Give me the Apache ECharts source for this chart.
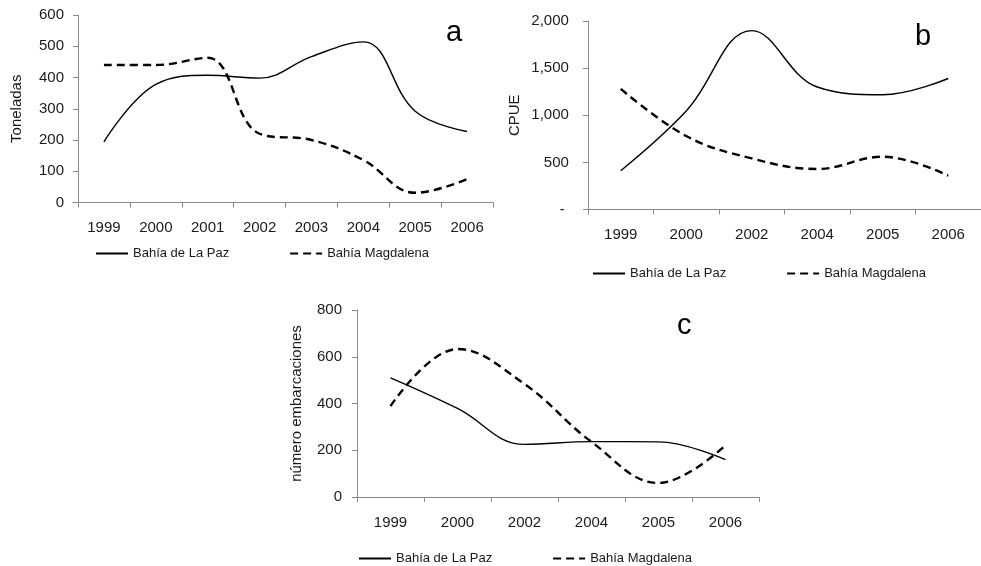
<!DOCTYPE html>
<html>
<head>
<meta charset="utf-8">
<script src="https://cdn.jsdelivr.net/npm/echarts@6/dist/echarts.min.js"></script>
<style>
  html, body { margin: 0; padding: 0; background: #fff; }
  #chart { width: 981px; height: 566px; }
</style>
</head>
<body>
<div id="chart"></div>
<script>
// Panel a: landings (toneladas) per year
const yearsA = ['1999', '2000', '2001', '2002', '2003', '2004', '2005', '2006'];
const toneladasPaz = [194, 378, 407, 398, 467, 514, 292, 227];
const toneladasMag = [440, 440, 463, 220, 200, 136, 31, 75];

// Panels b and c share the same years
const yearsBC = ['1999', '2000', '2002', '2004', '2005', '2006'];
const cpuePaz = [412, 1045, 1898, 1300, 1218, 1390];
const cpueMag = [1280, 780, 542, 430, 560, 359];
const embarcPaz = [510, 379, 225, 237, 236, 160];
const embarcMag = [389, 633, 483, 236, 60, 221];

const nameA = 'Bahía de La Paz';
const nameB = 'Bahía Magdalena';

const FONT = 'Liberation Sans, Arial, sans-serif';
const AXIS_GRAY = '#8a8a8a';
const TEXT = '#1a1a1a';

const solidStyle = { color: '#000', width: 1.4, type: 'solid' };
const dashStyle = { color: '#000', width: 2.4, type: [8, 5] };

function xAxisFor(gridIndex, cats) {
  return {
    type: 'category', gridIndex: gridIndex, data: cats, boundaryGap: true,
    axisLine: { lineStyle: { color: AXIS_GRAY, width: 1 } },
    axisTick: { show: true, inside: false, length: 5, alignWithLabel: false, lineStyle: { color: AXIS_GRAY } },
    axisLabel: { color: TEXT, fontFamily: FONT, fontSize: 15, margin: 18, interval: 0 },
    splitLine: { show: false }
  };
}

function yAxisFor(gridIndex, max, interval, title, gap, margin, fmt) {
  return {
    type: 'value', gridIndex: gridIndex, min: 0, max: max, interval: interval,
    name: title, nameLocation: 'middle', nameGap: gap, nameRotate: 90,
    nameTextStyle: { color: TEXT, fontFamily: FONT, fontSize: 15 },
    axisLine: { show: true, lineStyle: { color: AXIS_GRAY, width: 1 } },
    axisTick: { show: true, inside: false, length: 5, lineStyle: { color: AXIS_GRAY } },
    axisLabel: { color: TEXT, fontFamily: FONT, fontSize: 15, margin: margin, formatter: fmt },
    splitLine: { show: false }
  };
}

function lineSeries(name, data, xi, yi, style) {
  return {
    name: name, type: 'line', xAxisIndex: xi, yAxisIndex: yi, data: data,
    smooth: 0.4, symbol: 'none', showSymbol: false,
    lineStyle: style, itemStyle: { color: '#000' },
    emphasis: { disabled: true }, animation: false
  };
}

// legend shows the line sample only, without a marker
function legendAt(left, top) {
  return {
    left: left, top: top, orient: 'horizontal', padding: 0,
    itemWidth: 32, itemHeight: 14, itemGap: 60,
    data: [nameA, nameB], selectedMode: false,
    itemStyle: { opacity: 0 },
    textStyle: { color: TEXT, fontFamily: FONT, fontSize: 13 }
  };
}

// accounting style labels for CPUE: dash for zero, thousands separator
function cpueFormat(v) {
  if (v === 0) return '-  ';
  return v.toLocaleString('en-US') + ' ';
}

const chart = echarts.init(document.getElementById('chart'), null, { renderer: 'canvas' });

chart.setOption({
  backgroundColor: '#fff',
  animation: false,
  grid: [
    { left: 78, top: 15, width: 415, height: 187.5 },
    { left: 588, top: 21, width: 402, height: 188.5 },
    { left: 357, top: 310, width: 402, height: 187 }
  ],
  xAxis: [xAxisFor(0, yearsA), xAxisFor(1, yearsBC), xAxisFor(2, yearsBC)],
  yAxis: [
    yAxisFor(0, 600, 100, 'Toneladas', 54, 14),
    yAxisFor(1, 2000, 500, 'CPUE', 66, 15, cpueFormat),
    yAxisFor(2, 800, 200, 'número embarcaciones', 53, 15)
  ],
  legend: [legendAt(95, 247), legendAt(592, 267), legendAt(358, 552)],
  series: [
    lineSeries(nameA, toneladasPaz, 0, 0, solidStyle),
    lineSeries(nameB, toneladasMag, 0, 0, dashStyle),
    lineSeries(nameA, cpuePaz, 1, 1, solidStyle),
    lineSeries(nameB, cpueMag, 1, 1, dashStyle),
    lineSeries(nameA, embarcPaz, 2, 2, solidStyle),
    lineSeries(nameB, embarcMag, 2, 2, dashStyle)
  ],
  graphic: [
    { type: 'text', left: 446, top: 18, style: { text: 'a', font: '29px ' + FONT, fill: '#000' } },
    { type: 'text', left: 915, top: 22, style: { text: 'b', font: '29px ' + FONT, fill: '#000' } },
    { type: 'text', left: 677, top: 311, style: { text: 'c', font: '29px ' + FONT, fill: '#000' } }
  ]
});
</script>
</body>
</html>
